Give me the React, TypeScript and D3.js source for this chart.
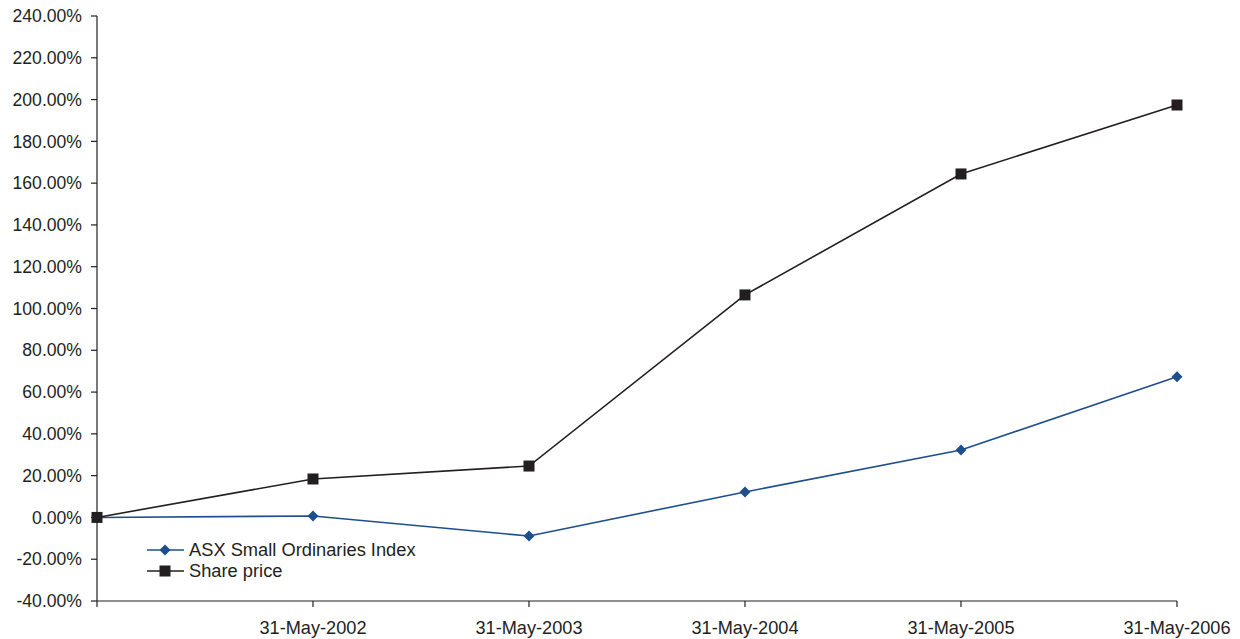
import React from "react";
import * as d3 from "d3";

const categories = ["", "31-May-2002", "31-May-2003", "31-May-2004", "31-May-2005", "31-May-2006"];
const asxValues = [0, 0.7, -8.9, 12.2, 32.3, 67.3];
const shareValues = [0, 18.4, 24.6, 106.5, 164.4, 197.4];
const yTicks = [-40, -20, 0, 20, 40, 60, 80, 100, 120, 140, 160, 180, 200, 220, 240];

const W = 1240;
const H = 639;
const left = 97;
const right = 1177;
const top = 16;
const bottom = 601;
const blue = "#1f4e8c";
const black = "#231f20";
const font = "'Liberation Sans', Arial, sans-serif";

export default function App() {
  const x = d3.scaleLinear().domain([0, categories.length - 1]).range([left, right]);
  const y = d3.scaleLinear().domain([-40, 240]).range([bottom, top]);
  const line = d3
    .line<number>()
    .x((_, i) => x(i))
    .y((d) => y(d));
  const diamond = "M0,-5.5L5.5,0L0,5.5L-5.5,0Z";

  return (
    <svg width={W} height={H} style={{ position: "absolute", left: 0, top: 0 }}>
      <rect width={W} height={H} fill="#fff" />
      {/* y axis */}
      <line x1={left} x2={left} y1={top} y2={bottom} stroke={black} strokeWidth={1.2} />
      {yTicks.map((t) => (
        <g key={t}>
          <line x1={left - 6} x2={left} y1={y(t)} y2={y(t)} stroke={black} strokeWidth={1.2} />
          <text x={82} y={y(t)} dy="0.35em" textAnchor="end" fontFamily={font} fontSize={17.6} fill={black}>
            {t.toFixed(2) + "%"}
          </text>
        </g>
      ))}
      {/* x axis */}
      <line x1={left} x2={right} y1={bottom} y2={bottom} stroke={black} strokeWidth={1.2} />
      {categories.map((c, i) => (
        <g key={i}>
          <line x1={x(i)} x2={x(i)} y1={bottom} y2={bottom + 6} stroke={black} strokeWidth={1.2} />
          <text x={x(i)} y={634} textAnchor="middle" fontFamily={font} fontSize={18.2} fill={black}>
            {c}
          </text>
        </g>
      ))}
      {/* series */}
      <path d={line(asxValues) || ""} fill="none" stroke={blue} strokeWidth={1.6} />
      <path d={line(shareValues) || ""} fill="none" stroke={black} strokeWidth={1.6} />
      {asxValues.map((v, i) => (
        <path key={"a" + i} d={diamond} transform={`translate(${x(i)},${y(v)})`} fill={blue} />
      ))}
      {shareValues.map((v, i) => (
        <rect key={"s" + i} x={x(i) - 5.5} y={y(v) - 5.5} width={11} height={11} fill={black} />
      ))}
      {/* legend */}
      <g>
        <line x1={147} x2={184} y1={550} y2={550} stroke={blue} strokeWidth={1.6} />
        <path d={diamond} transform="translate(165,550)" fill={blue} />
        <text x={189} y={550} dy="0.35em" fontFamily={font} fontSize={18.3} fill={black}>
          ASX Small Ordinaries Index
        </text>
        <line x1={147} x2={184} y1={571} y2={571} stroke={black} strokeWidth={1.6} />
        <rect x={159.5} y={565.5} width={11} height={11} fill={black} />
        <text x={189} y={571} dy="0.35em" fontFamily={font} fontSize={18.3} fill={black}>
          Share price
        </text>
      </g>
    </svg>
  );
}
